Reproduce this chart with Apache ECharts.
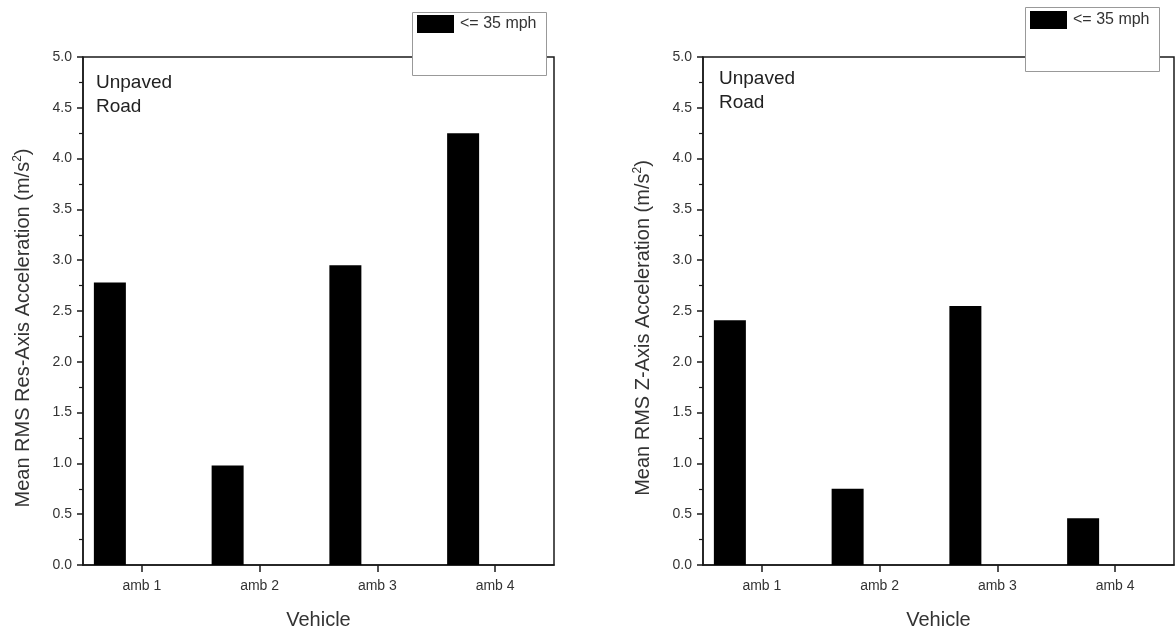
<!DOCTYPE html>
<html>
<head>
<meta charset="utf-8">
<script src="https://cdn.jsdelivr.net/npm/echarts@6/dist/echarts.min.js"></script>
<style>
html,body{margin:0;padding:0;background:#fff;}
#chart{width:1175px;height:635px;}
</style>
</head>
<body>
<div id="chart"></div>
<script>
var categories = ['amb 1', 'amb 2', 'amb 3', 'amb 4'];
var resAxisSlow = [2.78, 0.98, 2.95, 4.25];
var zAxisSlow = [2.41, 0.75, 2.55, 0.46];
var seriesName = '<= 35 mph';
var emptySeries = [null, null, null, null];
var yTitleLeft = 'Mean RMS Res-Axis Acceleration (m/s{sup|2})';
var yTitleRight = 'Mean RMS Z-Axis Acceleration (m/s{sup|2})';
var xTitle = 'Vehicle';
var noteText = 'Unpaved\nRoad';

var FONT = '"Liberation Sans", Arial, sans-serif';
var AX = '#1a1a1a';
var TXT = '#333';

function xAxisDef(gi) {
  return {
    type: 'category', gridIndex: gi, data: categories,
    name: xTitle, nameLocation: 'middle', nameGap: 45,
    nameTextStyle: {fontFamily: FONT, fontSize: 20, color: TXT},
    axisLine: {show: true, lineStyle: {color: AX, width: 1.5}},
    axisTick: {show: true, alignWithLabel: true, length: 7, inside: false, lineStyle: {color: AX, width: 1.5}},
    axisLabel: {fontFamily: FONT, fontSize: 14, color: TXT, margin: 14},
    splitLine: {show: false}
  };
}
function yAxisDef(gi, title) {
  return {
    type: 'value', gridIndex: gi, min: 0, max: 5, interval: 0.5,
    name: title, nameLocation: 'middle', nameGap: 49, nameRotate: 90,
    nameTextStyle: {fontFamily: FONT, fontSize: 20, color: TXT, padding: [0, 34, 0, 0],
      rich: {sup: {fontFamily: FONT, fontSize: 12, color: TXT, verticalAlign: 'top', padding: [0, 0, 10, 0]}}},
    axisLine: {show: true, lineStyle: {color: AX, width: 1.5}},
    axisTick: {show: true, length: 6, inside: false, lineStyle: {color: AX, width: 1.5}},
    minorTick: {show: true, splitNumber: 2, length: 4, lineStyle: {color: AX, width: 1.2}},
    axisLabel: {fontFamily: FONT, fontSize: 14, color: TXT, margin: 11, formatter: function(v){return v.toFixed(1);}},
    splitLine: {show: false}
  };
}

var chart = echarts.init(document.getElementById('chart'), null, {renderer: 'canvas'});
chart.setOption({
  backgroundColor: '#fff',
  animation: false,
  grid: [
    {left: 83, top: 57, width: 471, height: 508, show: true, borderColor: AX, borderWidth: 1.5,
     backgroundColor: 'transparent', containLabel: false, outerBoundsMode: 'none'},
    {left: 703, top: 57, width: 471, height: 508, show: true, borderColor: AX, borderWidth: 1.5,
     backgroundColor: 'transparent', containLabel: false, outerBoundsMode: 'none'}
  ],
  xAxis: [xAxisDef(0), xAxisDef(1)],
  yAxis: [yAxisDef(0, yTitleLeft), yAxisDef(1, yTitleRight)],
  legend: [
    {data: [seriesName], left: 417, top: 15, padding: 0, itemGap: 0, itemWidth: 37, itemHeight: 18,
     icon: 'rect', selectedMode: false, z: 30,
     textStyle: {fontFamily: FONT, fontSize: 16, color: TXT, padding: [0, 0, 0, 1]}},
    {data: [seriesName], left: 1030, top: 11, padding: 0, itemGap: 0, itemWidth: 37, itemHeight: 18,
     icon: 'rect', selectedMode: false, z: 30,
     textStyle: {fontFamily: FONT, fontSize: 16, color: TXT, padding: [0, 0, 0, 1]}}
  ],
  graphic: [
    {type: 'rect', z: 20, shape: {x: 412.5, y: 12.5, width: 134, height: 63},
     style: {fill: '#fff', stroke: '#999', lineWidth: 1}},
    {type: 'rect', z: 20, shape: {x: 1025.5, y: 7.5, width: 134, height: 64},
     style: {fill: '#fff', stroke: '#999', lineWidth: 1}},
    {type: 'text', z: 20, left: 96, top: 71,
     style: {text: noteText, fontFamily: FONT, fontSize: 19, fill: '#222', lineHeight: 24}},
    {type: 'text', z: 20, left: 719, top: 67,
     style: {text: noteText, fontFamily: FONT, fontSize: 19, fill: '#222', lineHeight: 24}}
  ],
  series: [
    {name: seriesName, type: 'bar', xAxisIndex: 0, yAxisIndex: 0, data: resAxisSlow,
     barWidth: 32, barGap: '100%', itemStyle: {color: '#000'}},
    {name: '> 35 mph', type: 'bar', xAxisIndex: 0, yAxisIndex: 0, data: emptySeries,
     barWidth: 32, barGap: '100%', itemStyle: {color: '#fff'}},
    {name: seriesName, type: 'bar', xAxisIndex: 1, yAxisIndex: 1, data: zAxisSlow,
     barWidth: 32, barGap: '100%', itemStyle: {color: '#000'}},
    {name: '> 35 mph', type: 'bar', xAxisIndex: 1, yAxisIndex: 1, data: emptySeries,
     barWidth: 32, barGap: '100%', itemStyle: {color: '#fff'}}
  ]
});
</script>
</body>
</html>
